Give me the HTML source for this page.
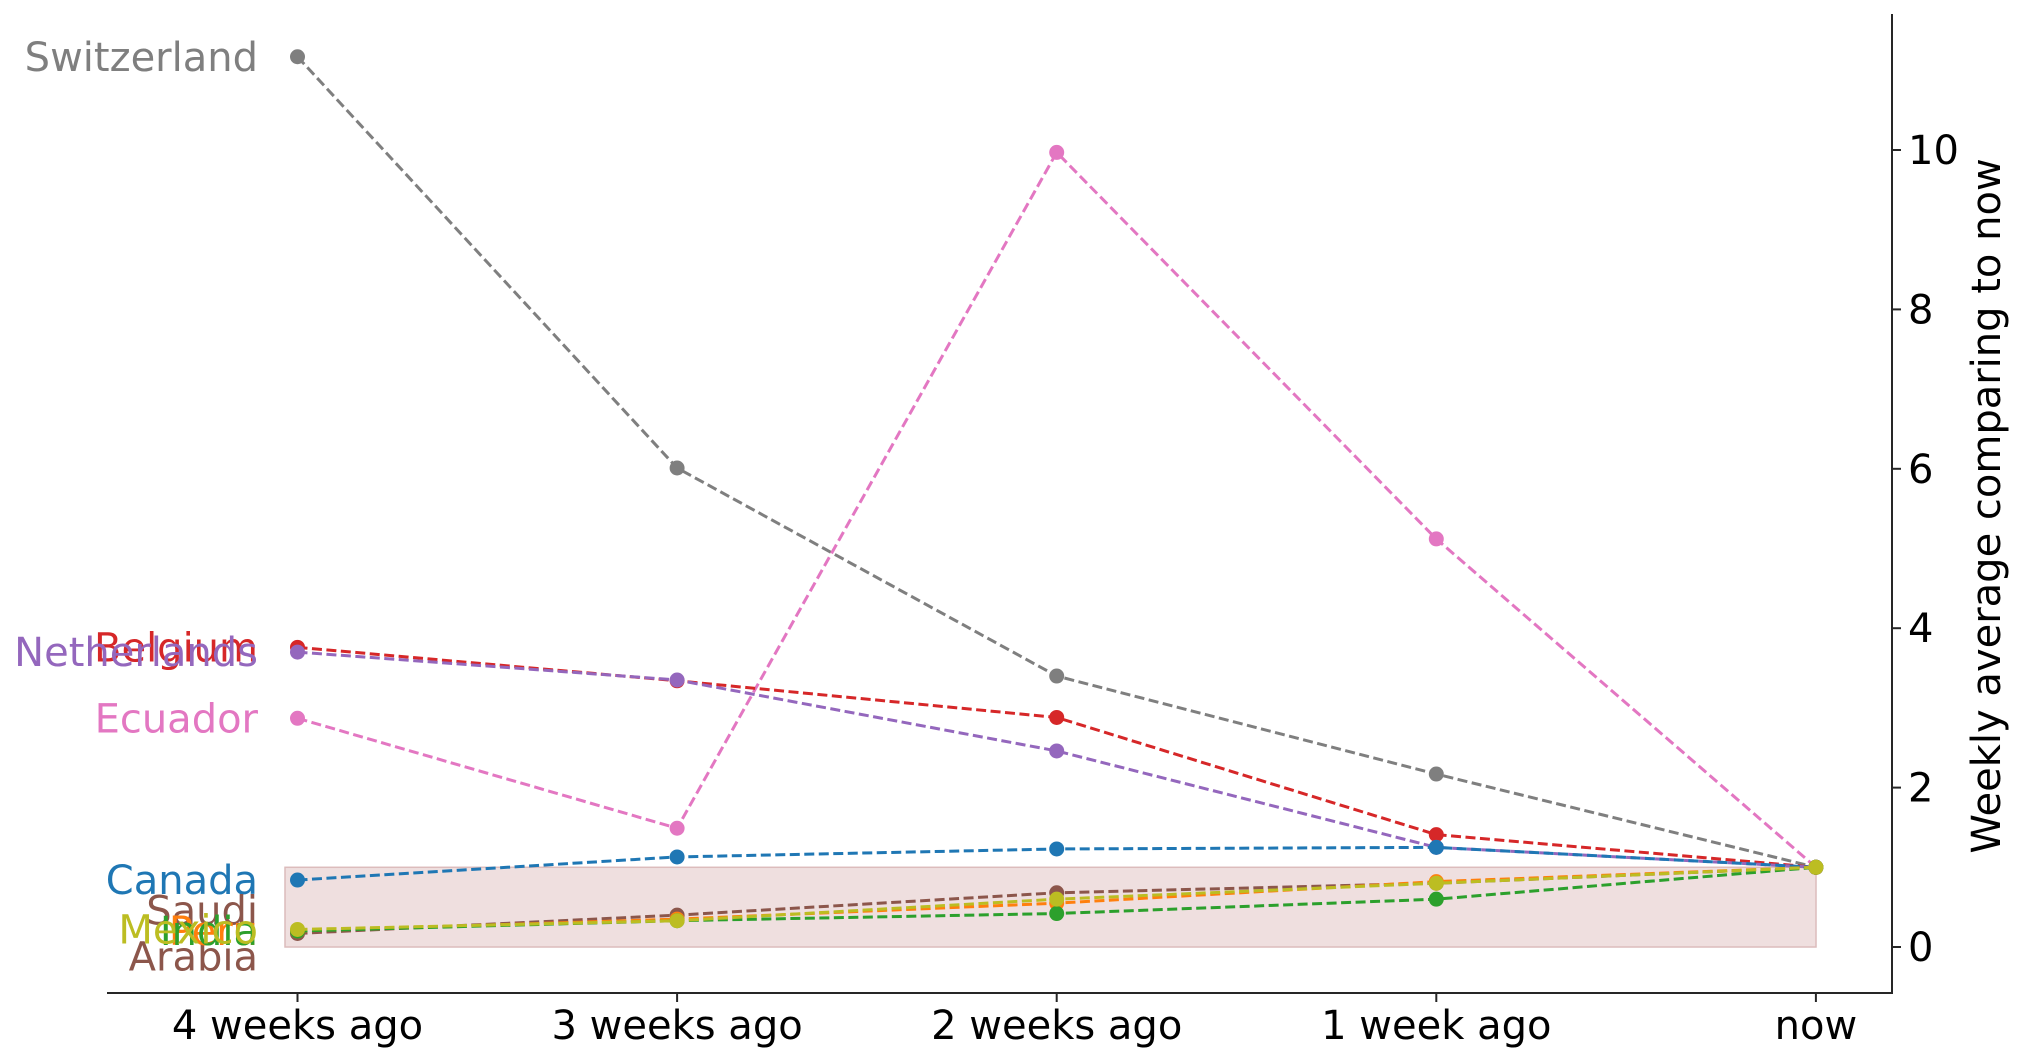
<!DOCTYPE html>
<html><head><meta charset="utf-8"><style>
html,body{margin:0;padding:0;background:#fff}
svg{display:block}
text{font-family:"DejaVu Sans","Liberation Sans",sans-serif}
</style></head><body>
<svg id="chart" width="2019" height="1061" viewBox="0 0 2019 1061" xmlns="http://www.w3.org/2000/svg">
<rect x="285" y="0" width="1531" height="0" fill="#efdfdf" stroke="#dcbcbc" stroke-width="1.5" id="band"/>
<g id="series"></g>
<g id="axes"></g>
</svg>
<script>
const categories = ["4 weeks ago","3 weeks ago","2 weeks ago","1 week ago","now"];
const countries = ["Switzerland","Ecuador","Belgium","Netherlands","Canada","Saudi Arabia","Peru","India","Mexico"];
const colors = ["#7f7f7f","#e377c2","#d62728","#9467bd","#1f77b4","#8c564b","#ff7f0e","#2ca02c","#bcbd22"];
const switzerland = [11.17,6.01,3.40,2.17,1];
const ecuador = [2.87,1.49,9.97,5.12,1];
const belgium = [3.76,3.34,2.88,1.41,1];
const netherlands = [3.70,3.35,2.46,1.25,1];
const canada = [0.84,1.13,1.23,1.25,1];
const saudiArabia = [0.17,0.40,0.68,0.80,1];
const peru = [0.20,0.35,0.55,0.82,1];
const india = [0.20,0.33,0.42,0.60,1];
const mexico = [0.22,0.33,0.60,0.80,1];
const yTicks = [0,2,4,6,8,10];
const bandRange = [0,1];

const seriesValues = [switzerland,ecuador,belgium,netherlands,canada,saudiArabia,peru,india,mexico];
const NS="http://www.w3.org/2000/svg";
const x0=297.5, dx=379.6;
const xScale=i=>x0+i*dx;
const yScale=v=>947-v*79.7;
function mk(tag,attrs,parent){const e=document.createElementNS(NS,tag);for(const k in attrs)e.setAttribute(k,attrs[k]);parent.appendChild(e);return e;}

const band=document.getElementById('band');
band.setAttribute('y',yScale(bandRange[1]));
band.setAttribute('height',yScale(bandRange[0])-yScale(bandRange[1]));

const sg=document.getElementById('series');
seriesValues.forEach((vals,si)=>{
  const c=colors[si];
  const pts=vals.map((v,i)=>xScale(i)+","+yScale(v)).join(" ");
  const pl=mk('polyline',{points:pts,fill:"none",stroke:c,"stroke-width":3,"stroke-dasharray":"10,4.5"},sg);
  
  
  vals.forEach((v,i)=>{
    const m=mk('circle',{cx:xScale(i),cy:yScale(v),r:7.5,fill:c},sg);
    
    
  });
  const words=countries[si].split(" ");
  const y=yScale(vals[0]);
  words.forEach((w,wi)=>{
    const t=mk('text',{x:258,y:y+14-(words.length-1)*23+wi*46,"text-anchor":"end","font-size":40,fill:c},sg);
    t.textContent=w;
    
    
  });
});

const ax=document.getElementById('axes');
const xl=mk('line',{x1:107,y1:993,x2:1893,y2:993,stroke:"#262626","stroke-width":2},ax);


const yl=mk('line',{x1:1892,y1:14,x2:1892,y2:994,stroke:"#262626","stroke-width":2},ax);


categories.forEach((c,i)=>{
  mk('line',{x1:xScale(i),y1:993,x2:xScale(i),y2:1002,stroke:"#262626","stroke-width":2},ax);
  const t=mk('text',{x:xScale(i),y:1039,"text-anchor":"middle","font-size":40,fill:"#000"},ax);
  t.textContent=c;
  
  
});
yTicks.forEach(v=>{
  mk('line',{x1:1892,y1:yScale(v),x2:1901,y2:yScale(v),stroke:"#262626","stroke-width":2},ax);
  const t=mk('text',{x:1908,y:yScale(v)+14,"text-anchor":"start","font-size":40,fill:"#000"},ax);
  t.textContent=v;
  
  
});
const yt=mk('text',{x:0,y:0,"text-anchor":"middle","font-size":40,fill:"#000",transform:"translate(2000,506) rotate(-90)"},ax);
yt.textContent="Weekly average comparing to now";


</script>
</body></html>
